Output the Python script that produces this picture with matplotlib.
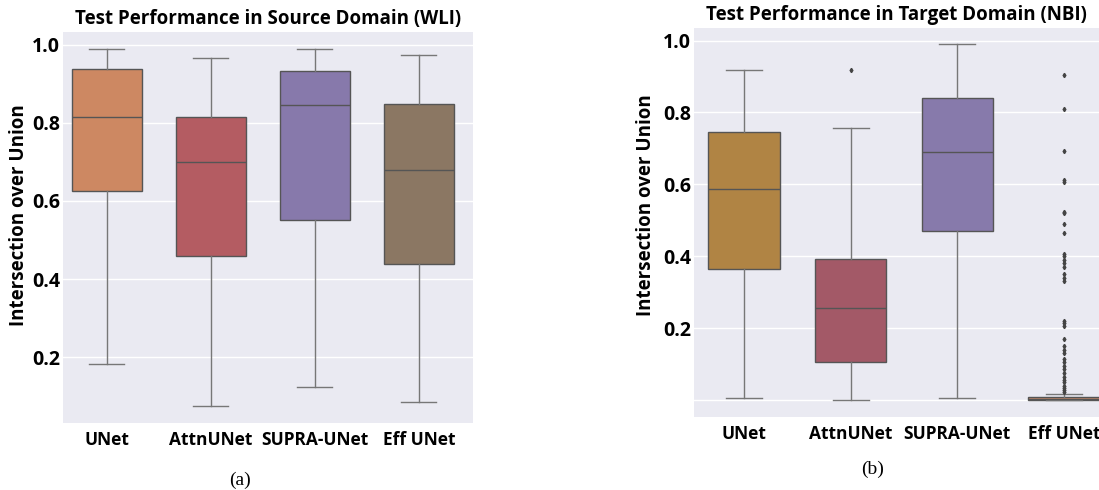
import matplotlib
matplotlib.use("Agg")
import matplotlib.pyplot as plt

# ============================================================
# === DATA
# ============================================================
models = ["UNet", "AttnUNet", "SUPRA-UNet", "Eff UNet"]

# Source domain (WLI)
src_whislo = [0.183, 0.074, 0.123, 0.085]
src_q1 = [0.625, 0.459, 0.550, 0.438]
src_med = [0.815, 0.700, 0.845, 0.679]
src_q3 = [0.938, 0.815, 0.933, 0.848]
src_whishi = [0.989, 0.966, 0.989, 0.973]
src_colors = ["#CD8862", "#B45C62", "#8779AB", "#8B7763"]

# Target domain (NBI)
tgt_whislo = [0.005, 0.000, 0.005, 0.000]
tgt_q1 = [0.366, 0.105, 0.471, 0.000]
tgt_med = [0.587, 0.257, 0.690, 0.004]
tgt_q3 = [0.745, 0.393, 0.841, 0.010]
tgt_whishi = [0.917, 0.756, 0.990, 0.017]
tgt_colors = ["#B08444", "#A35967", "#877AAB", "#C88A6A"]

attn_fliers = [0.917]
eff_fliers = [0.905, 0.810, 0.693, 0.613, 0.607, 0.524, 0.520, 0.490, 0.464,
              0.407, 0.400, 0.390, 0.380, 0.370, 0.350, 0.340, 0.330,
              0.220, 0.215, 0.205, 0.170, 0.150, 0.140, 0.130, 0.115,
              0.105, 0.095, 0.087, 0.075, 0.065, 0.057, 0.050, 0.040,
              0.035, 0.028, 0.022]
tgt_fliers = [[], attn_fliers, [], eff_fliers]


def make_stats(lo, q1, med, q3, hi, fliers=None):
    stats = []
    for i in range(len(models)):
        stats.append({
            "label": models[i],
            "whislo": lo[i], "q1": q1[i], "med": med[i],
            "q3": q3[i], "whishi": hi[i],
            "fliers": fliers[i] if fliers else [],
        })
    return stats


def draw_panel(ax, stats, colors, title, yticks, ylim, xlim, label_xy):
    ax.set_facecolor("#EAEAF2")
    for s in ax.spines.values():
        s.set_visible(False)
    ax.set_axisbelow(True)
    ax.yaxis.grid(True, color="white", linewidth=1.0)
    bp = ax.bxp(
        stats, positions=range(len(stats)), widths=0.67,
        patch_artist=True, showfliers=True,
        boxprops=dict(edgecolor="#555555", linewidth=1.0),
        medianprops=dict(color="#555555", linewidth=1.0),
        whiskerprops=dict(color="#777777", linewidth=1.0),
        capprops=dict(color="#777777", linewidth=1.0),
        flierprops=dict(marker="d", markersize=2.2, markerfacecolor="#444444",
                        markeredgecolor="#444444"),
    )
    for patch, c in zip(bp["boxes"], colors):
        patch.set_facecolor(c)
    ax.set_xlim(*xlim)
    ax.set_ylim(*ylim)
    ax.set_yticks(yticks)
    ax.set_yticklabels(["%.1f" % v for v in yticks])
    ax.tick_params(axis="x", length=0, pad=6)
    ax.tick_params(axis="y", length=0, pad=2)
    for lab in ax.get_yticklabels():
        lab.set_fontsize(14)
        lab.set_fontweight("bold")
    for lab in ax.get_xticklabels():
        lab.set_fontsize(12.5)
        lab.set_fontweight("bold")
    ax.set_ylabel("Intersection over Union", fontsize=13.5, fontweight="bold")
    ax.yaxis.set_label_coords(*label_xy)
    ax.set_title(title, fontsize=13.5, fontweight="bold", pad=6)


plt.rcParams["font.family"] = ["Open Sans", "DejaVu Sans"]

fig = plt.figure(figsize=(10.99, 4.90), dpi=100)
fig.patch.set_facecolor("white")

W, H = 1099.0, 490.0
ax1 = fig.add_axes([63 / W, (H - 423) / H, 410 / W, 391 / H])
ax2 = fig.add_axes([694 / W, (H - 417) / H, 405 / W, 389 / H])

draw_panel(ax1, make_stats(src_whislo, src_q1, src_med, src_q3, src_whishi),
           src_colors, "Test Performance in Source Domain (WLI)",
           [0.2, 0.4, 0.6, 0.8, 1.0], (0.031, 1.033), (-0.42, 3.52),
           (-0.082, 0.532))
draw_panel(ax2, make_stats(tgt_whislo, tgt_q1, tgt_med, tgt_q3, tgt_whishi, tgt_fliers),
           tgt_colors, "Test Performance in Target Domain (NBI)",
           [0.2, 0.4, 0.6, 0.8, 1.0], (-0.047, 1.035), (-0.47, 3.33),
           (-0.093, 0.545))
# the bottom gridline at 0.0 has no label in the target panel
ax2.axhline(0.0, color="white", linewidth=1.0, zorder=0.5)

fig.text(240 / W, 1 - 480 / H, "(a)", family="Liberation Serif", fontsize=14,
         ha="center", va="center")
fig.text(873 / W, 1 - 469 / H, "(b)", family="Liberation Serif", fontsize=14,
         ha="center", va="center")

fig.savefig("out.png", dpi=100)
